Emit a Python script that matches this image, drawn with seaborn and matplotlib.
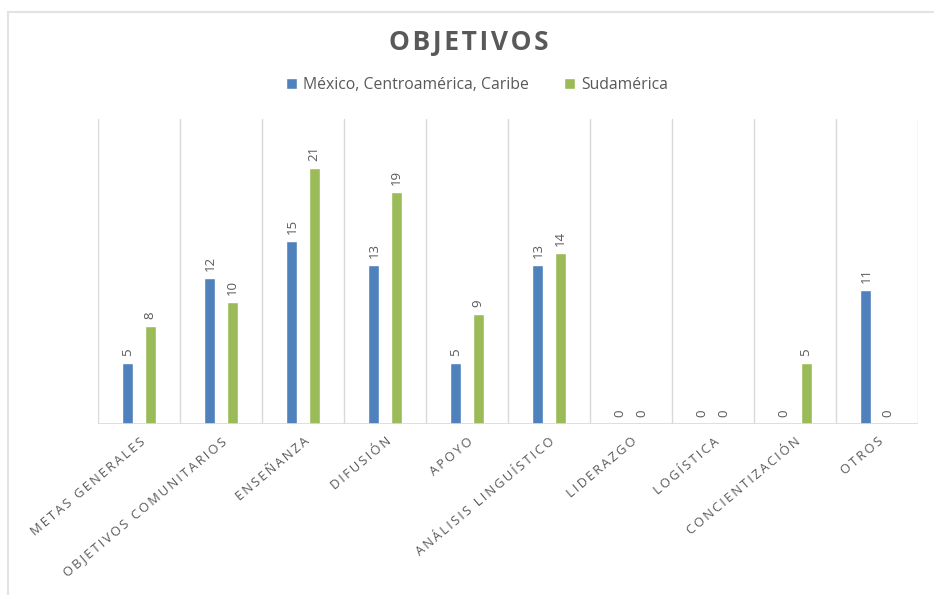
import matplotlib
matplotlib.use("Agg")
import matplotlib.pyplot as plt
from matplotlib.lines import Line2D
import seaborn as sns
import pandas as pd

categories = ["METAS GENERALES", "OBJETIVOS COMUNITARIOS", "ENSEÑANZA", "DIFUSIÓN", "APOYO",
              "ANÁLISIS LINGUÍSTICO", "LIDERAZGO", "LOGÍSTICA", "CONCIENTIZACIÓN", "OTROS"]
series_names = ["México, Centroamérica, Caribe", "Sudamérica"]
mexico = [5, 12, 15, 13, 5, 13, 0, 0, 0, 11]
sudamerica = [8, 10, 21, 19, 9, 14, 0, 0, 5, 0]

df = pd.DataFrame({
    "cat": categories * 2,
    "val": mexico + sudamerica,
    "serie": [series_names[0]] * len(categories) + [series_names[1]] * len(categories),
})

sns.set_theme(style="white")
plt.rcParams["font.family"] = ["Open Sans", "DejaVu Sans"]

fig = plt.figure(figsize=(9.34, 5.95), dpi=100)
W, H = 934, 595
ax = fig.add_axes([98 / W, 1 - 424 / H, (918 - 98) / W, (424 - 119) / H])

palette = {series_names[0]: "#4F81BD", series_names[1]: "#9BBB59"}
sns.barplot(data=df, x="cat", y="val", hue="serie", palette=palette, order=categories,
            hue_order=series_names, width=0.54, gap=0.5, saturation=1, ax=ax, legend=True)

ax.set_ylim(0, 25)
ax.set_xlim(-0.5, len(categories) - 0.5)
for b in [i - 0.5 for i in range(len(categories) + 1)]:
    ax.axvline(b, color="#D9D9D9", lw=1, zorder=0)
ax.axhline(0, color="#D9D9D9", lw=1.2, zorder=1)
for s in ax.spines.values():
    s.set_visible(False)
ax.set_yticks([])
ax.set_xlabel("")
ax.set_ylabel("")

for cont in ax.containers:
    ax.bar_label(cont, fmt="%d", rotation=90, padding=5, color="#595959", fontsize=9.5)

ts = "\u2009"
hs = "\u200a"
ax.set_xticks(range(len(categories)))
ax.set_xticklabels([ts.join(c) for c in categories], rotation=40, ha="right",
                   rotation_mode="anchor", color="#595959", fontsize=9.3)
ax.tick_params(axis="x", length=0, pad=8)

handles, labels = ax.get_legend_handles_labels()
ax.get_legend().remove()
fig.legend(handles, labels, loc="center", bbox_to_anchor=(0.5 + 10 / W, 1 - 85 / H), ncol=2,
           frameon=False, handlelength=0.7, handleheight=0.7, handletextpad=0.4,
           columnspacing=2.2, fontsize=11.3, labelcolor="#595959")

fig.text(0.5 + 2 / W, 1 - 42 / H, hs.join("OBJETIVOS"), ha="center", va="center",
         fontsize=19, fontweight="bold", color="#595959")

fig.add_artist(Line2D([8 / W, 8 / W], [0, 1 - 12 / H], transform=fig.transFigure,
                      color="#E3E3E3", lw=1.5))
fig.add_artist(Line2D([8 / W, 933 / W], [1 - 12 / H, 1 - 12 / H], transform=fig.transFigure,
                      color="#E3E3E3", lw=1.5))

fig.savefig("out.png", dpi=100, facecolor="white")
